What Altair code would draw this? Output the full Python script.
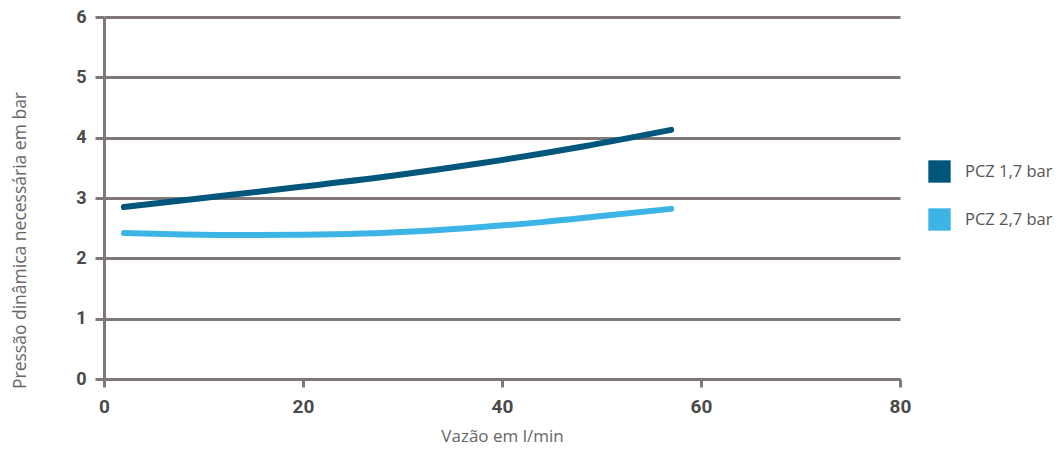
import altair as alt
import pandas as pd

series_names = ["PCZ 1,7 bar", "PCZ 2,7 bar"]
series_colors = ["#00577b", "#3cb5e6"]

flow_17 = [2, 10, 20, 29, 38, 48, 57]
pres_17 = [2.85, 3.00, 3.19, 3.37, 3.58, 3.85, 4.13]

flow_27 = [2, 8, 14, 20, 26, 32, 38, 44, 50, 57]
pres_27 = [2.42, 2.395, 2.385, 2.39, 2.41, 2.455, 2.52, 2.60, 2.70, 2.82]

x_ticks = [0, 20, 40, 60, 80]
y_ticks = [0, 1, 2, 3, 4, 5, 6]

rows = []
for f, p in zip(flow_17, pres_17):
    rows.append({"vazao": f, "pressao": p, "serie": series_names[0]})
for f, p in zip(flow_27, pres_27):
    rows.append({"vazao": f, "pressao": p, "serie": series_names[1]})
df = pd.DataFrame(rows)

GREY = "#7f7878"
LABEL = "#4a4a4a"

x_enc = alt.X(
    "vazao:Q",
    scale=alt.Scale(domain=[0, 80], nice=False, zero=True),
    axis=alt.Axis(
        values=x_ticks, format="d", title="Vazão em l/min", grid=False,
        domainColor=GREY, domainWidth=3, tickColor=GREY, tickWidth=3, tickSize=8,
        labelFont="Roboto", labelFontWeight="bold", labelFontSize=19, labelColor=LABEL,
        labelPadding=10, titleFont="Open Sans", titleFontWeight="normal",
        titleFontSize=17, titleColor="#666666", titlePadding=12,
    ),
)
y_enc = alt.Y(
    "pressao:Q",
    scale=alt.Scale(domain=[0, 6], nice=False),
    axis=alt.Axis(
        values=y_ticks, format="d", title="Pressão dinâmica necessária em bar", grid=True,
        gridColor=GREY, gridWidth=3, gridOpacity=1,
        domainColor=GREY, domainWidth=3, tickColor=GREY, tickWidth=3, tickSize=9,
        labelFont="Roboto", labelFontWeight="bold", labelFontSize=18, labelColor=LABEL,
        labelPadding=9, titleFont="Open Sans", titleFontWeight="normal",
        titleFontSize=17.5, titleColor="#666666", titleX=-84, titleY=223,
        titleAngle=-90, titleAlign="center", titleBaseline="middle",
    ),
)

lines = alt.Chart(df).mark_line(
    strokeWidth=6, strokeCap="round", interpolate="monotone"
).encode(
    x=x_enc, y=y_enc,
    color=alt.Color("serie:N", scale=alt.Scale(domain=series_names, range=series_colors), legend=None),
)

legend_layer = alt.Chart(df).mark_square(size=0, opacity=0, filled=True).encode(
    x="vazao:Q", y="pressao:Q",
    fill=alt.Fill(
        "serie:N",
        scale=alt.Scale(domain=series_names, range=series_colors),
        legend=alt.Legend(
            title=None, orient="none", legendX=824, legendY=143,
            symbolType="square", symbolSize=500, symbolOpacity=1, symbolStrokeWidth=0,
            rowPadding=25, labelOffset=14, labelFont="Open Sans", labelFontSize=16.5,
            labelColor="#555555",
        ),
    ),
)

chart = alt.layer(lines, legend_layer).resolve_scale(color="independent", fill="independent").properties(
    width=796, height=362,
    autosize=alt.AutoSizeParams(type="none"),
    padding={"left": 96, "top": 9, "right": 154, "bottom": 66},
).configure_view(stroke=None).configure_axis(labelFlush=False)

chart.save("out.html", embed_options={"renderer": "svg", "actions": False})
